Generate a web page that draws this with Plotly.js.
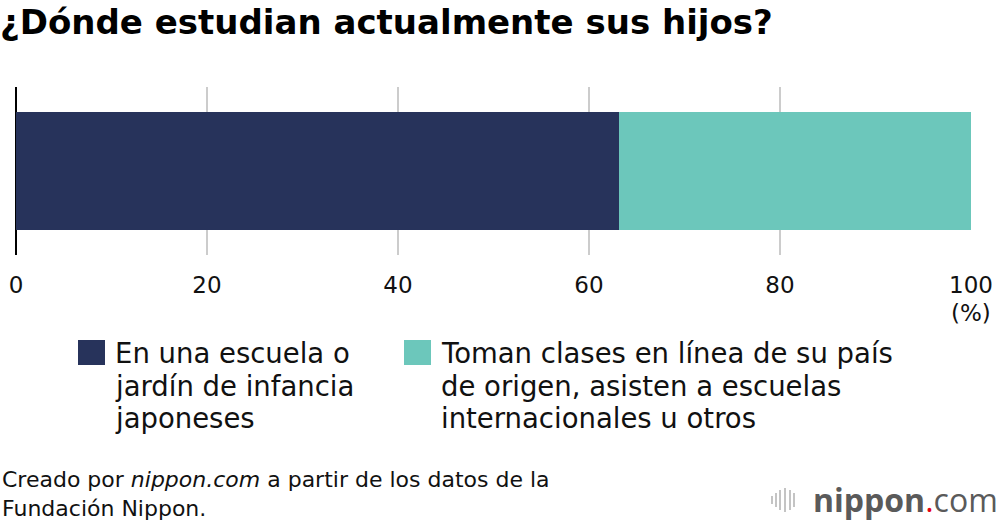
<!DOCTYPE html>
<html>
<head>
<meta charset="utf-8">
<script src="https://cdn.plot.ly/plotly-3.0.1.min.js"></script>
<style>html,body{margin:0;padding:0;background:#fff;}#chart{width:1000px;height:524px;}</style>
</head>
<body>
<div id="chart"></div>
<script>
// ---- data ----
const categories = [''];
const seriesNames = [
  'En una escuela o<br>jardín de infancia<br>japoneses',
  'Toman clases en línea de su país<br>de origen, asisten a escuelas<br>internacionales u otros'
];
const seriesValues = [[63.1], [36.9]];
const tickValues = [0, 20, 40, 60, 80, 100];
const tickLabels = ['0', '20', '40', '60', '80', '100'];

// ---- style ----
const colors = ['#27335b', '#6cc7bb'];
const FONT = 'DejaVu Sans, Liberation Sans, Arial, sans-serif';
const W = 1000, H = 524;
const M = {l: 16, r: 29, t: 87, b: 269};
const PW = W - M.l - M.r, PH = H - M.t - M.b;
const px = x => (x - M.l) / PW;
const py = y => (H - M.b - y) / PH;

const traces = seriesNames.map((name, i) => ({
  type: 'bar',
  orientation: 'h',
  y: categories,
  x: seriesValues[i],
  name: name.replace(/<br>/g, ' '),
  marker: {color: colors[i], line: {width: 0}},
  hoverinfo: 'x+name'
}));

const legendX = [78, 404];
const shapes = [];
const annotations = [];
seriesNames.forEach((name, i) => {
  shapes.push({type: 'rect', xref: 'paper', yref: 'paper',
    x0: px(legendX[i]), x1: px(legendX[i] + 27), y0: py(340), y1: py(365),
    fillcolor: colors[i], line: {width: 0}});
  name.split('<br>').forEach((line, j) => {
    annotations.push({xref: 'paper', yref: 'paper', x: px(legendX[i] + 35), y: py(353 + j * 32.5),
      xanchor: 'left', yanchor: 'middle', align: 'left', showarrow: false,
      text: line, font: {family: FONT, size: 27.5, color: '#111'}});
  });
});

annotations.push({xref: 'x', yref: 'paper', x: 100, y: py(313), xanchor: 'center', yanchor: 'middle',
  showarrow: false, text: '(%)', font: {family: FONT, size: 23, color: '#111'}});

annotations.push({xref: 'paper', yref: 'paper', x: px(0), y: py(494), xanchor: 'left', yanchor: 'middle',
  align: 'left', showarrow: false,
  text: 'Creado por <i>nippon.com</i> a partir de los datos de la<br>Fundación Nippon.',
  font: {family: FONT, size: 22, color: '#111'}});

// logo
annotations.push({xref: 'paper', yref: 'paper', x: px(1000), y: py(500), xanchor: 'right', yanchor: 'middle',
  showarrow: false,
  text: '<b>nippon</b><span style="color:#e60012">.</span>com',
  font: {family: 'Open Sans, sans-serif', size: 32, color: '#5a5a5a'}});
const logoBars = [[772, 8], [776, 14], [780, 20], [785, 24], [790, 20], [794, 14]];
logoBars.forEach(([x, h]) => {
  shapes.push({type: 'line', xref: 'paper', yref: 'paper',
    x0: px(x), x1: px(x), y0: py(500 - h / 2), y1: py(500 + h / 2),
    line: {color: '#c4c4c4', width: 2}});
});

const layout = {
  width: W, height: H,
  margin: M,
  paper_bgcolor: '#fff', plot_bgcolor: '#fff',
  barmode: 'stack',
  bargap: 0.3,
  showlegend: false,
  title: {text: '<b>¿Dónde estudian actualmente sus hijos?</b>', xref: 'container', yref: 'container',
    x: 0, xanchor: 'left', y: 1 - 22 / H, yanchor: 'middle',
    font: {family: FONT, size: 34, color: '#000'}},
  xaxis: {range: [0, 100], tickvals: tickValues, ticktext: tickLabels,
    showgrid: true, gridcolor: '#cccccc', gridwidth: 2,
    zeroline: true, zerolinecolor: '#000', zerolinewidth: 2,
    showline: false, ticks: 'outside', ticklen: 9, tickcolor: 'rgba(0,0,0,0)',
    tickfont: {family: FONT, size: 23, color: '#111'}, fixedrange: true},
  yaxis: {range: [-0.5, 0.5], visible: false, fixedrange: true},
  shapes: shapes,
  annotations: annotations
};

Plotly.newPlot('chart', traces, layout, {displayModeBar: false, staticPlot: true});
</script>
</body>
</html>
